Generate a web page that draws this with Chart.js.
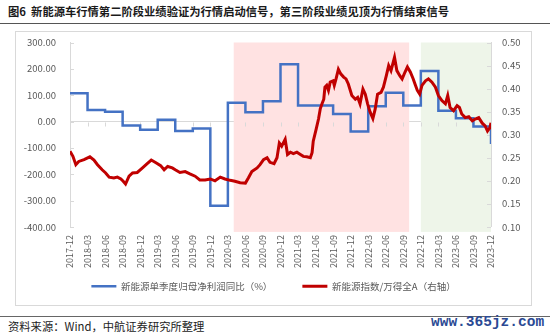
<!DOCTYPE html>
<html>
<head>
<meta charset="utf-8">
<script src="https://cdn.jsdelivr.net/npm/chart.js@4/dist/chart.umd.min.js"></script>
<style>
  body { margin:0; width:550px; height:335px; background:#fff; position:relative; overflow:hidden; font-family:"Noto Sans CJK SC", sans-serif; }
  .title { position:absolute; left:8px; top:3px; font-size:11.3px; font-weight:bold; color:#1a1a1a; white-space:nowrap; }
  .rule { position:absolute; left:0; width:550px; height:1.5px; background:#555; }
  .frame { position:absolute; left:15px; top:31px; width:515px; height:273px; border:1px solid #d9d9d9; }
  #wrap { position:absolute; left:16px; top:32px; width:515px; height:272px; }
  .source { position:absolute; left:8px; top:318px; font-size:11.3px; color:#222; white-space:nowrap; }
  .mark { position:absolute; left:431px; top:314px; font-family:"Liberation Mono", monospace; font-weight:bold; font-size:14.5px; color:#2b4a94; }
</style>
</head>
<body>
<div class="title">图6&nbsp;&nbsp;新能源车行情第二阶段业绩验证为行情启动信号，第三阶段业绩见顶为行情结束信号</div>
<div class="rule" style="top:22.5px"></div>
<div class="frame"></div>
<div id="wrap"><canvas id="chart"></canvas></div>
<div class="rule" style="top:315.5px;background:#666"></div>
<div class="source">资料来源：Wind，中航证券研究所整理</div>
<div class="mark">www.365jz.com</div>

<script>
// 季度标签（x轴按月计，0 = 2017-12）
const quarterLabels = [
  '2017-12', '2018-03', '2018-06', '2018-09', '2018-12', '2019-03', '2019-06', '2019-09',
  '2019-12', '2020-03', '2020-06', '2020-09', '2020-12', '2021-03', '2021-06', '2021-09',
  '2021-12', '2022-03', '2022-06', '2022-09', '2022-12', '2023-03', '2023-06', '2023-09', '2023-12'
];

// 新能源单季度归母净利润同比（%），每季度一个值
const profitYoY = [
  107, 44, 37, -15, -31, 7, -36, -26,
  -320, 71, 35, 77, 217, 61, 61, 29,
  -38, 58, 109, 61, 192, 41, 12, -19, -85
];

// 新能源指数/万得全A：月份位置 与 比值
const ratioMonth = [
  0, 0.5, 1, 1.5, 2.4, 3.4, 4.1, 4.7, 5.5, 6.1, 6.7, 7.5, 8.1, 8.7, 9.1, 9.5, 10.1, 10.7, 11.5,
  12.4, 13.2, 13.9, 14.7, 15.5, 16.1, 16.7, 17.5, 18, 18.8, 19.7, 20.5, 21.4, 22.2, 23.1,
  24, 24.8, 25.7, 26.5, 27.4, 28.2, 29.1, 30, 30.5, 31.1, 32, 32.5, 33.1, 33.7, 34.2, 34.9, 35.4, 35.8,
  36.2, 36.8, 37.2, 37.7, 38.2, 38.8, 39.4, 39.9, 40.5, 41.1, 41.4, 41.6, 42.1, 42.5, 42.8, 43.1, 43.4, 43.6, 43.9, 44.2, 44.5, 45, 45.2, 45.5, 45.9, 46.3, 46.8, 47.2, 47.6,
  48.2, 48.8, 49.2, 49.6, 50.1, 50.5, 50.9, 51.3, 51.8, 52.2, 52.6, 53.2, 53.6, 54.1, 54.5, 54.9, 55.5, 55.9, 56.4, 56.8, 57.3, 57.7, 58.2, 58.7, 59, 59.4, 59.8,
  60.2, 60.8, 61.3, 61.9, 62.5, 63, 63.6, 64.2, 64.6, 65, 65.6, 66.2, 66.6, 67, 67.6, 68.2, 68.8, 69.3, 69.9, 70.5, 71, 71.4, 71.8, 72
];
const ratioValue = [
  0.264, 0.253, 0.235, 0.242, 0.246, 0.252, 0.245, 0.235, 0.224, 0.217, 0.208, 0.206, 0.208, 0.204, 0.199, 0.193, 0.210, 0.217, 0.218,
  0.228, 0.237, 0.245, 0.239, 0.233, 0.224, 0.231, 0.228, 0.224, 0.218, 0.220, 0.215, 0.210, 0.202, 0.202,
  0.204, 0.200, 0.208, 0.204, 0.201, 0.199, 0.196, 0.195, 0.206, 0.220, 0.228, 0.235, 0.246, 0.250, 0.240, 0.237, 0.250, 0.282,
  0.275, 0.290, 0.257, 0.262, 0.259, 0.262, 0.257, 0.253, 0.252, 0.250, 0.261, 0.286, 0.312, 0.334, 0.356, 0.367, 0.377, 0.403, 0.407, 0.396, 0.414, 0.417, 0.407, 0.421, 0.442, 0.432, 0.425, 0.421, 0.410,
  0.385, 0.377, 0.381, 0.367, 0.399, 0.388, 0.367, 0.350, 0.335, 0.356, 0.388, 0.392, 0.403, 0.428, 0.450, 0.439, 0.468, 0.439, 0.428, 0.421, 0.436, 0.447, 0.436, 0.421, 0.410, 0.396, 0.388,
  0.407, 0.417, 0.421, 0.414, 0.403, 0.385, 0.374, 0.367, 0.385, 0.359, 0.352, 0.363, 0.359, 0.345, 0.337, 0.339, 0.330, 0.334, 0.337, 0.325, 0.319, 0.308, 0.315, 0.326
];

// 行情阶段（月份区间）：第二阶段、第三阶段
const phaseStart = [28, 60];
const phaseEnd = [58, 72];
const phaseColor = ['rgba(255, 226, 226, 1)', 'rgba(238, 245, 233, 1)'];

// 背景阶段色块 + 零线/坐标轴上的小刻度
const phasePlugin = {
  id: 'phases',
  afterLayout(chart) {
    // 竖排日期标签比轴框高，放宽裁剪区
    const x = chart.scales.x;
    x.bottom = x.top + 50;
  },
  beforeDatasetsDraw(chart) {
    const { ctx, chartArea, scales } = chart;
    const x = scales.x, y = scales.y, y1 = scales.y1;
    ctx.save();
    phaseStart.forEach((s, i) => {
      const x0 = x.getPixelForValue(s);
      const x1 = x.getPixelForValue(phaseEnd[i]);
      ctx.fillStyle = phaseColor[i];
      ctx.fillRect(x0, chartArea.top, x1 - x0, chartArea.bottom - chartArea.top + 5);
    });
    ctx.strokeStyle = '#d9d9d9';
    ctx.lineWidth = 1;
    const zero = Math.round(y.getPixelForValue(0)) + 0.5;
    ctx.beginPath();
    x.ticks.forEach(t => {
      const px = Math.round(x.getPixelForValue(t.value)) + 0.5;
      ctx.moveTo(px, zero);
      ctx.lineTo(px, zero + 4);
    });
    y.ticks.forEach(t => {
      const py = Math.round(y.getPixelForValue(t.value)) + 0.5;
      ctx.moveTo(chartArea.left, py);
      ctx.lineTo(chartArea.left + 4, py);
    });
    y1.ticks.forEach(t => {
      const py = Math.round(y1.getPixelForValue(t.value)) + 0.5;
      ctx.moveTo(chartArea.right - 4, py);
      ctx.lineTo(chartArea.right, py);
    });
    ctx.stroke();
    ctx.restore();
  }
};

const tickFont = { family: '"Noto Sans CJK SC", sans-serif', size: 9.5 };
const tickColor = '#595959';

new Chart(document.getElementById('chart'), {
  type: 'line',
  data: {
    datasets: [{
      label: '新能源单季度归母净利润同比（%）',
      data: profitYoY.map((v, i) => ({ x: i * 3, y: v })),
      borderColor: '#4472C4',
      backgroundColor: '#4472C4',
      borderWidth: 2.5,
      stepped: true,
      pointRadius: 0,
      yAxisID: 'y',
      order: 2
    }, {
      label: '新能源指数/万得全A（右轴）',
      data: ratioMonth.map((m, i) => ({ x: m, y: ratioValue[i] })),
      borderColor: '#C00000',
      backgroundColor: '#C00000',
      borderWidth: 3,
      pointRadius: 0,
      tension: 0,
      yAxisID: 'y1',
      order: 1
    }]
  },
  options: {
    responsive: true,
    maintainAspectRatio: false,
    animation: false,
    layout: { padding: { top: 10.5, left: 0, right: 0, bottom: 3 } },
    plugins: {
      legend: {
        position: 'bottom',
        labels: {
          usePointStyle: true,
          pointStyle: 'line',
          pointStyleWidth: 25,
          padding: 30,
          color: tickColor,
          font: { family: '"Noto Sans CJK SC", sans-serif', size: 9.5 },
          sort: (a, b) => a.datasetIndex - b.datasetIndex
        }
      },
      tooltip: { enabled: false }
    },
    scales: {
      x: {
        type: 'linear',
        min: 0,
        max: 72,
        grid: { display: false, drawTicks: false },
        border: { display: false },
        afterFit: s => { s.height = 24.6; },
        ticks: {
          stepSize: 3,
          autoSkip: false,
          minRotation: 90,
          maxRotation: 90,
          padding: 8,
          color: tickColor,
          font: { ...tickFont, size: 9 },
          callback: v => quarterLabels[Math.round(v / 3)]
        }
      },
      y: {
        position: 'left',
        min: -400,
        max: 300,
        afterFit: s => { s.width = 54; },
        grid: {
          drawTicks: true,
          tickLength: 10,
          tickColor: 'rgba(0,0,0,0)',
          color: c => (c.tick && c.tick.value === 0 ? '#d9d9d9' : 'rgba(0,0,0,0)')
        },
        border: { color: '#d9d9d9' },
        ticks: {
          stepSize: 100,
          padding: 4,
          color: tickColor,
          font: tickFont,
          callback: v => v.toFixed(2)
        }
      },
      y1: {
        position: 'right',
        min: 0.1,
        max: 0.5,
        afterFit: s => { s.width = 40; },
        grid: { display: false, drawTicks: true, tickLength: 8 },
        border: { color: '#d9d9d9' },
        ticks: {
          stepSize: 0.05,
          padding: 3,
          color: tickColor,
          font: tickFont,
          callback: v => v.toFixed(2)
        }
      }
    }
  },
  plugins: [phasePlugin]
});
</script>
</body>
</html>
